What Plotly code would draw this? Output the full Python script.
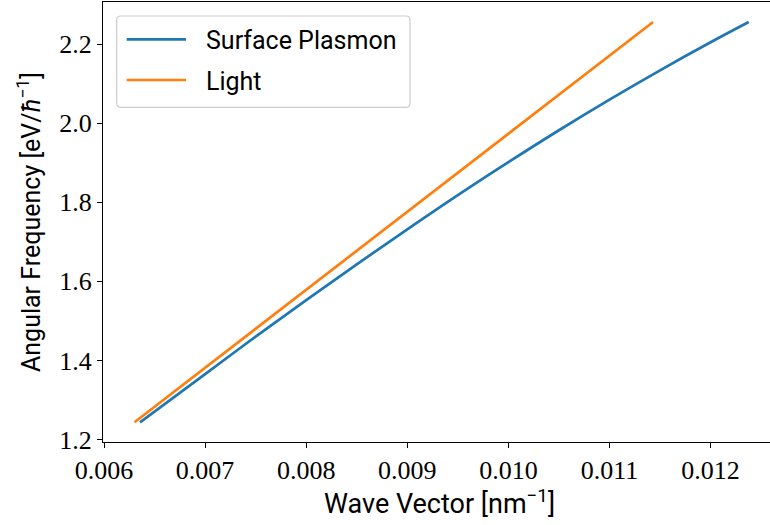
import plotly.graph_objects as go

# Surface plasmon dispersion branch: wave vector [nm^-1] vs angular frequency [eV/hbar]
sp_k = [0.006356, 0.0070, 0.0075, 0.0080, 0.0085, 0.0090, 0.0095,
        0.0100, 0.0105, 0.0110, 0.0115, 0.0120, 0.012377]
sp_w = [1.2435, 1.3655, 1.4600, 1.5525, 1.6430, 1.7313, 1.8178,
        1.9012, 1.9819, 2.0593, 2.1335, 2.2044, 2.2556]

# Light line over the same frequency interval
light_k = [0.006302, 0.011431]
light_w = [1.2435, 2.2556]

x_ticks = [0.006, 0.007, 0.008, 0.009, 0.010, 0.011, 0.012]
x_ticktext = ["0.006", "0.007", "0.008", "0.009", "0.010", "0.011", "0.012"]
y_ticks = [1.2, 1.4, 1.6, 1.8, 2.0, 2.2]
y_ticktext = ["1.2", "1.4", "1.6", "1.8", "2.0", "2.2"]

series_names = ["Surface Plasmon", "Light"]
colors = ["#1f77b4", "#ff7f0e"]

W, H = 770, 525
ML, MR, MT, MB = 103, 0, 2, 83
PW, PH = W - ML - MR, H - MT - MB


def px(x):
    return (x - ML) / PW


def py(y):
    return (H - MB - y) / PH


fig = go.Figure()
for k, w, name, c in zip([sp_k, light_k], [sp_w, light_w], series_names, colors):
    fig.add_trace(go.Scatter(
        x=k, y=w, mode="lines", name=name, showlegend=False,
        line=dict(color=c, width=2.7, shape="spline", smoothing=1.0),
    ))

serif = "Liberation Serif"
sans = "Roboto"

axis_common = dict(
    showgrid=False, zeroline=False, showline=True, linecolor="black", linewidth=1.3,
    ticks="outside", ticklen=5, tickwidth=1.2, tickcolor="black",
    tickfont=dict(family=serif, size=26, color="black"),
)
fig.update_xaxes(range=[0.0059901, 0.0125875], tickvals=x_ticks, ticktext=x_ticktext,
                 mirror=True, **axis_common)
fig.update_yaxes(range=[1.19368, 2.30620], tickvals=y_ticks, ticktext=y_ticktext,
                 **axis_common)

# Legend frame with rounded corners
lx0, lx1, ly0, ly1, r = 116.7, 410.0, 16.0, 107.3, 4.0
path = (
    f"M {px(lx0 + r)} {py(ly0)} L {px(lx1 - r)} {py(ly0)} "
    f"Q {px(lx1)} {py(ly0)} {px(lx1)} {py(ly0 + r)} "
    f"L {px(lx1)} {py(ly1 - r)} Q {px(lx1)} {py(ly1)} {px(lx1 - r)} {py(ly1)} "
    f"L {px(lx0 + r)} {py(ly1)} Q {px(lx0)} {py(ly1)} {px(lx0)} {py(ly1 - r)} "
    f"L {px(lx0)} {py(ly0 + r)} Q {px(lx0)} {py(ly0)} {px(lx0 + r)} {py(ly0)} Z"
)
shapes = [dict(type="path", xref="paper", yref="paper", path=path,
               line=dict(color="rgb(204,204,204)", width=1.2),
               fillcolor="rgba(255,255,255,0.8)")]
annotations = []
for i, (name, c) in enumerate(zip(series_names, colors)):
    yy = 39.3 + i * 40.7
    shapes.append(dict(type="line", xref="paper", yref="paper",
                       x0=px(126.7), x1=px(186.0), y0=py(yy), y1=py(yy),
                       line=dict(color=c, width=2.7)))
    annotations.append(dict(xref="paper", yref="paper", x=px(204), y=py(yy + 1),
                            xanchor="left", yanchor="middle", showarrow=False,
                            text=name, font=dict(family=sans, size=25, color="black")))

annotations.append(dict(xref="paper", yref="paper", x=px(439), y=py(502),
                        xanchor="center", yanchor="middle", showarrow=False,
                        text="Wave Vector [nm<sup>−1</sup>]",
                        font=dict(family=sans, size=27, color="black")))
annotations.append(dict(xref="paper", yref="paper", x=px(29), y=py(222),
                        xanchor="center", yanchor="middle", showarrow=False, textangle=-90,
                        text="Angular Frequency [eV/<i>ħ</i><sup>−1</sup>]",
                        font=dict(family=sans, size=25, color="black")))

fig.update_layout(
    width=W, height=H, margin=dict(l=ML, r=MR, t=MT, b=MB, pad=0),
    paper_bgcolor="white", plot_bgcolor="white",
    shapes=shapes, annotations=annotations, showlegend=False,
)

fig.write_html("out.html")
